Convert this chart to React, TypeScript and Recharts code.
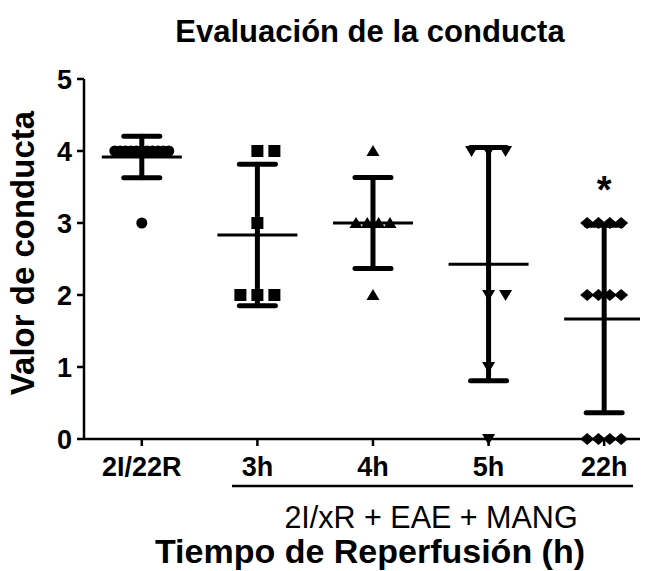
import React from "react";
import {
  ComposedChart,
  Scatter,
  XAxis,
  YAxis,
  ErrorBar,
  ReferenceDot,
} from "recharts";

const categories = ["2I/22R", "3h", "4h", "5h", "22h"];
const control = [4, 4, 4, 4, 4, 4, 4, 4, 4, 4, 4, 3];
const rep3h = [4, 4, 3, 2, 2, 2];
const rep4h = [4, 3, 3, 3, 3, 2];
const rep5h = [4, 4, 4, 2, 2, 1, 0];
const rep22h = [3, 3, 3, 3, 2, 2, 2, 2, 0, 0, 0, 0];
const yTicks = [0, 1, 2, 3, 4, 5];
const significant = [4]; // index of the group marked with *

const groups = [control, rep3h, rep4h, rep5h, rep22h];

const FONT = '"Liberation Sans", Arial, sans-serif';
const STEP = 17;

// horizontal spread of equal values, like a column scatter plot
function spread(m: number) {
  if (m === 1) return [0];
  if (m === 2) return [0, STEP];
  if (m === 3) return [-STEP, 0, STEP];
  const half = Math.min(27, STEP + (m - 4) * 1.5);
  return Array.from({ length: m }, (_, k) => -half + (2 * half * k) / (m - 1));
}

const points = groups.flatMap((vals, g) => {
  const counts: Record<number, number> = {};
  vals.forEach((v) => (counts[v] = (counts[v] || 0) + 1));
  const seen: Record<number, number> = {};
  return vals.map((v) => {
    const k = (seen[v] = (seen[v] ?? -1) + 1);
    return { x: g, y: v, g, dx: spread(counts[v])[k] };
  });
});

const stats = groups.map((vals, g) => {
  const n = vals.length;
  const mean = vals.reduce((a, b) => a + b, 0) / n;
  const sd = Math.sqrt(vals.reduce((a, v) => a + (v - mean) ** 2, 0) / (n - 1));
  return { x: g, y: mean, sd };
});

const Marker = (props: any) => {
  const { cx, cy, payload } = props;
  const x = cx + payload.dx;
  switch (payload.g) {
    case 0:
      return <circle cx={x} cy={cy} r={5.5} fill="#000" />;
    case 1:
      return <rect x={x - 6} y={cy - 6} width={12} height={12} fill="#000" />;
    case 2:
      return (
        <polygon
          points={`${x},${cy - 6} ${x + 6.5},${cy + 5} ${x - 6.5},${cy + 5}`}
          fill="#000"
        />
      );
    case 3:
      return (
        <polygon
          points={`${x},${cy + 6} ${x + 6.5},${cy - 5} ${x - 6.5},${cy - 5}`}
          fill="#000"
        />
      );
    default:
      return (
        <polygon
          points={`${x - 7},${cy} ${x},${cy - 6} ${x + 7},${cy} ${x},${cy + 6}`}
          fill="#000"
        />
      );
  }
};

const MeanLine = (props: any) => {
  const { cx, cy } = props;
  return (
    <line x1={cx - 40} x2={cx + 40} y1={cy} y2={cy} stroke="#000" strokeWidth={3} />
  );
};

const tickStyle = { fontSize: 27, fontWeight: "bold", fill: "#000", fontFamily: FONT };

export default function App() {
  return (
    <div style={{ position: "absolute", left: 0, top: 0, width: 653, height: 571, background: "#fff" }}>
      <ComposedChart
        width={653}
        height={571}
        margin={{ top: 79, right: 13, bottom: 92, left: 0 }}
      >
        <XAxis
          type="number"
          dataKey="x"
          domain={[-0.5, 4.31]}
          allowDataOverflow
          ticks={[0, 1, 2, 3, 4]}
          interval={0}
          tickFormatter={(i: number) => categories[i]}
          height={40}
          tickSize={7}
          tickMargin={11}
          tick={tickStyle}
          axisLine={{ stroke: "#000", strokeWidth: 2.5 }}
          tickLine={{ stroke: "#000", strokeWidth: 2.5 }}
        />
        <YAxis
          type="number"
          domain={[0, 5]}
          ticks={yTicks}
          interval={0}
          width={84}
          tickSize={7}
          tickMargin={5}
          tick={tickStyle}
          axisLine={{ stroke: "#000", strokeWidth: 2.5 }}
          tickLine={{ stroke: "#000", strokeWidth: 2.5 }}
        />
        <Scatter data={points} dataKey="y" shape={Marker} isAnimationActive={false} />
        <Scatter data={stats} dataKey="y" shape={MeanLine} isAnimationActive={false}>
          <ErrorBar
            dataKey="sd"
            direction="y"
            width={18}
            stroke="#000"
            strokeWidth={5}
            strokeLinecap="round"
            isAnimationActive={false}
          />
        </Scatter>
        {significant.map((g) => (
          <ReferenceDot
            key={g}
            x={g}
            y={Math.max(...groups[g])}
            r={0}
            fill="none"
            stroke="none"
            label={{
              value: "*",
              position: "top",
              offset: 20,
              fontSize: 38,
              fontWeight: "bold",
              fill: "#000",
              fontFamily: FONT,
            }}
          />
        ))}
      </ComposedChart>
      <svg
        width={653}
        height={571}
        style={{ position: "absolute", left: 0, top: 0, pointerEvents: "none" }}
        fontFamily={FONT}
      >
        <text x={370} y={42} textAnchor="middle" fontSize={31} fontWeight="bold">
          Evaluación de la conducta
        </text>
        <text
          x={34}
          y={253}
          textAnchor="middle"
          fontSize={33}
          fontWeight="bold"
          transform="rotate(-90, 34, 253)"
        >
          Valor de conducta
        </text>
        <line x1={232} x2={633} y1={486} y2={486} stroke="#000" strokeWidth={2.5} />
        <text x={431} y={528} textAnchor="middle" fontSize={30.5}>
          2I/xR + EAE + MANG
        </text>
        <text x={370} y={563} textAnchor="middle" fontSize={34} fontWeight="bold">
          Tiempo de Reperfusión (h)
        </text>
      </svg>
    </div>
  );
}
